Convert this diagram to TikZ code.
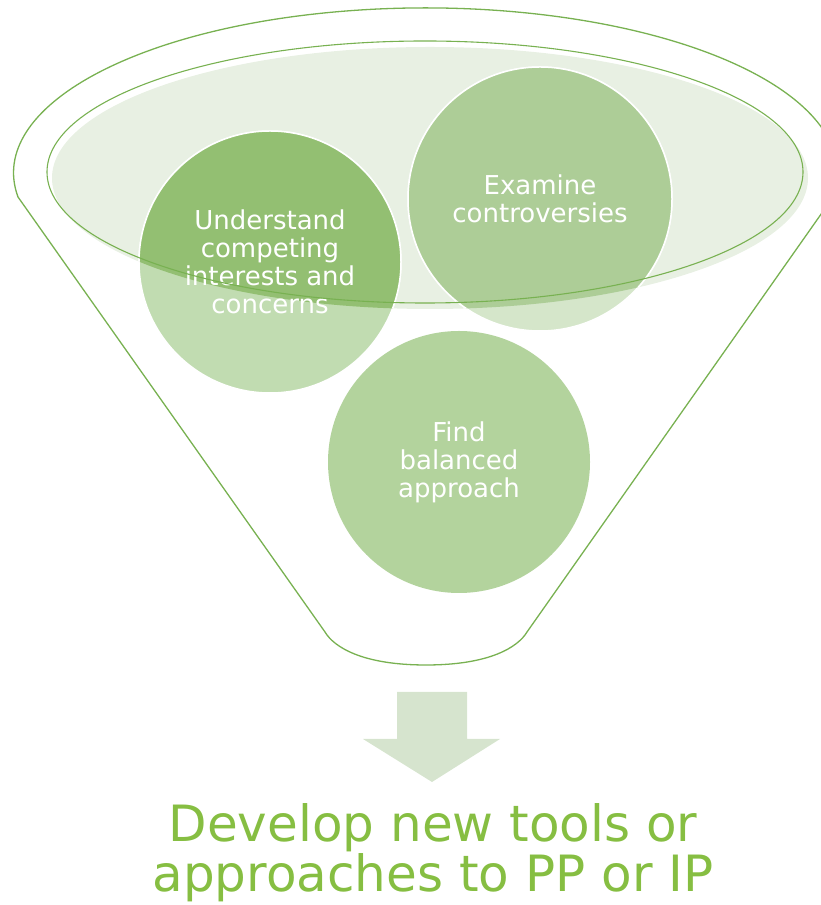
\documentclass[tikz,border=0pt]{standalone}
\usepackage{fontspec}
\setmainfont{DejaVu Sans}
\definecolor{funline}{HTML}{78B151}
\definecolor{ellfill}{HTML}{E8F0E3}
\definecolor{udark}{HTML}{93BF72}
\definecolor{ulight}{HTML}{C1DCB1}
\definecolor{edark}{HTML}{ADCD97}
\definecolor{elight}{HTML}{D5E6CA}
\definecolor{ffill}{HTML}{B3D39D}
\definecolor{arrowc}{HTML}{D6E4CE}
\definecolor{textc}{HTML}{86BE42}
\tikzset{
  funnelline/.style={draw=funline, line width=1.3pt, line join=round},
  bubble/.style={circle, minimum size=262pt, inner sep=0pt, draw=white, line width=1.5pt},
  bubbletext/.style={text=white, align=center, font=\fontsize{26}{28}\selectfont, inner sep=0pt},
  bigtext/.style={text=textc, align=center, font=\fontsize{50}{50}\selectfont, inner sep=0pt}
}
\begin{document}
\begin{tikzpicture}[x=1pt,y=1pt]
\useasboundingbox (0,0) rectangle (821,905);
% outer funnel outline
\draw[funnelline] (18,708) arc[start angle=188.4, end angle=-8.4, x radius=412, y radius=165]
  -- (527,273) .. controls (518,258) and (490,240) .. (426,240)
  .. controls (362,240) and (334,258) .. (325,273) -- cycle;
% funnel mouth fill
\fill[ellfill] (430,727) ellipse[x radius=378, y radius=131];
% circles
\node[bubble, fill=ulight] (u) at (270,643) {};
\node[bubble, fill=elight, minimum size=264pt] (e) at (540,706) {};
\node[bubble, fill=ffill, draw=none] (f) at (459,443) {};
\begin{scope}
  \clip (430,727) ellipse[x radius=378, y radius=131];
  \fill[udark, draw=white, line width=1.5pt] (u.center) circle[radius=131];
  \fill[edark, draw=white, line width=1.5pt] (e.center) circle[radius=132];
\end{scope}
% labels
\node[bubbletext] (ut) at (u.center) {Understand\\competing\\interests and\\concerns};
\node[bubbletext] (et) at (e.center) {Examine\\controversies};
\node[bubbletext] (ft) at (f.center) {Find\\balanced\\approach};
% funnel mouth rim
\draw[funnelline, line width=1.1pt] (425,733) ellipse[x radius=378, y radius=131];
% arrow
\fill[arrowc] (397,213) -- (467,213) -- (467,166) -- (500,166) -- (432,123) -- (363,166) -- (397,166) -- cycle;
% result text
\node[bigtext, anchor=base] (res) at (433,13) {Develop new tools or\\approaches to PP or IP};
\end{tikzpicture}
\end{document}
